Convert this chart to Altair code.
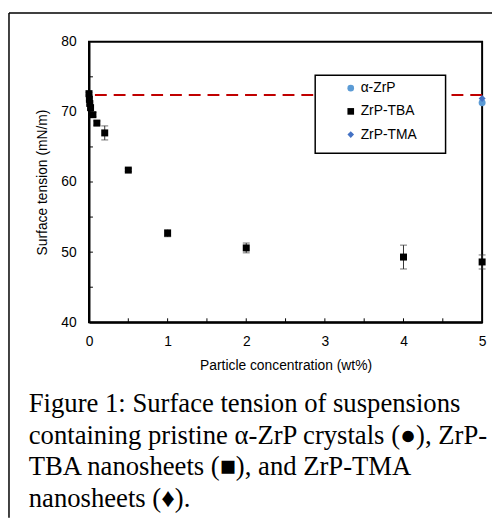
import altair as alt
import pandas as pd

# ZrP-TBA series
tba_conc = [0.0, 0.005, 0.01, 0.02, 0.05, 0.1, 0.2, 0.5, 1.0, 2.0, 4.0, 5.0]
tba_tension = [72.6, 71.8, 71.2, 70.6, 69.6, 68.4, 67.0, 61.7, 52.7, 50.6, 49.3, 48.6]
tba_err = [0.2, 0.2, 0.2, 0.2, 0.3, 0.3, 1.0, 0.2, 0.5, 0.7, 1.7, 1.0]

# pristine alpha-ZrP and ZrP-TMA
azrp_conc = [5.0]
azrp_tension = [71.3]
tma_conc = [5.0]
tma_tension = [71.9]

water_tension = 72.4

series_names = ["α-ZrP", "ZrP-TBA", "ZrP-TMA"]
series_colors = ["#5B9BD5", "#000000", "#4472C4"]
series_shapes = ["circle", "square", "diamond"]

x_ticks_major = [0, 1, 2, 3, 4, 5]
x_ticks_minor = [0.5, 1, 1.5, 2, 2.5, 3, 3.5, 4, 4.5]
y_ticks_major = [40, 50, 60, 70, 80]
y_ticks_minor = [45, 50, 55, 60, 65, 70, 75]

caption_lines = [
    "Figure 1: Surface tension of suspensions",
    "containing pristine α-ZrP crystals (●), ZrP-",
    "TBA nanosheets (■), and ZrP-TMA",
    "nanosheets (♦).",
]

SANS = "Liberation Sans, Arial, sans-serif"
SERIF = "Liberation Serif, Times New Roman, serif"

points = pd.DataFrame(
    {
        "conc": azrp_conc + tba_conc + tma_conc,
        "tension": azrp_tension + tba_tension + tma_tension,
        "series": [series_names[0]] * len(azrp_conc)
        + [series_names[1]] * len(tba_conc)
        + [series_names[2]] * len(tma_conc),
    }
)
errs = pd.DataFrame(
    {
        "conc": tba_conc,
        "lo": [t - e for t, e in zip(tba_tension, tba_err)],
        "hi": [t + e for t, e in zip(tba_tension, tba_err)],
    }
)

W, H = 398, 284
xscale = alt.Scale(domain=[0, 5], nice=False)
yscale = alt.Scale(domain=[40, 80], nice=False)

xax = alt.Axis(
    values=x_ticks_major, format="d", grid=False, ticks=False, tickSize=0,
    domainColor="black", domainWidth=2, labelFontSize=14, labelColor="black",
    labelFont=SANS, labelPadding=13, labelFlush=False, title="Particle concentration (wt%)",
    titleFont=SANS, titleFontSize=14, titleFontWeight="normal", titleColor="black",
    titlePadding=10,
)
yax = alt.Axis(
    values=y_ticks_major, grid=False, ticks=False, tickSize=0,
    domainColor="black", domainWidth=2, labelFontSize=14, labelColor="black",
    labelFont=SANS, labelPadding=13, labelFlush=False, title="Surface tension (mN/m)",
    titleFont=SANS, titleFontSize=14, titleFontWeight="normal", titleColor="black",
    titlePadding=11,
)

base_x = alt.X("conc:Q", scale=xscale, axis=xax)

legend = alt.Legend(
    title=None, orient="none", legendX=234, legendY=31, padding=9,
    symbolOffset=15, labelOffset=3, rowPadding=9.5,
    labelFontSize=14, labelFont=SANS, labelColor="black",
    symbolSize=45, symbolStrokeWidth=0,
)

water = alt.Chart(pd.DataFrame({"y": [water_tension]})).mark_rule(
    color="#C00000", strokeWidth=2, strokeDash=[12, 7]
).encode(y=alt.Y("y:Q", scale=yscale, axis=yax))

# legend frame (white box covering the dashed line)
legend_box = alt.Chart(pd.DataFrame({"a": [0]})).mark_rect(
    fill="white", stroke="black", strokeWidth=1.5
).encode(x=alt.value(229), x2=alt.value(361), y=alt.value(34), y2=alt.value(113))

err_rule = alt.Chart(errs).mark_rule(color="#333333", strokeWidth=1).encode(
    x=base_x, y=alt.Y("lo:Q", scale=yscale, axis=yax), y2="hi:Q"
)
cap_lo = alt.Chart(errs).mark_tick(color="#333333", thickness=1, size=7, orient="horizontal").encode(
    x=base_x, y=alt.Y("lo:Q", scale=yscale, axis=yax)
)
cap_hi = alt.Chart(errs).mark_tick(color="#333333", thickness=1, size=7, orient="horizontal").encode(
    x=base_x, y=alt.Y("hi:Q", scale=yscale, axis=yax)
)

pts = alt.Chart(points).mark_point(filled=True, opacity=1, size=50).encode(
    x=base_x,
    y=alt.Y("tension:Q", scale=yscale, axis=yax),
    fill=alt.Fill(
        "series:N",
        scale=alt.Scale(domain=series_names, range=series_colors),
        legend=legend,
    ),
    shape=alt.Shape(
        "series:N",
        scale=alt.Scale(domain=series_names, range=series_shapes),
        legend=legend,
    ),
)

yt = alt.Chart(pd.DataFrame({"v": y_ticks_minor})).mark_rule(color="black", strokeWidth=1).encode(
    y=alt.Y("v:Q", scale=yscale, axis=yax), x=alt.value(0), x2=alt.value(4)
)
xt = alt.Chart(pd.DataFrame({"v": x_ticks_minor})).mark_rule(color="black", strokeWidth=1).encode(
    x=alt.X("v:Q", scale=xscale, axis=xax), y=alt.value(H), y2=alt.value(H - 4)
)

frame_left = alt.Chart(pd.DataFrame({"a": [0]})).mark_rule(color="black", strokeWidth=1.5).encode(
    x=alt.value(-81), y=alt.value(-29), y2=alt.value(H + 198)
)
frame_top = alt.Chart(pd.DataFrame({"a": [0]})).mark_rule(color="black", strokeWidth=1.5).encode(
    x=alt.value(-81), x2=alt.value(W + 20), y=alt.value(-29)
)

caption = alt.Chart(pd.DataFrame({"a": [0]})).mark_text(
    font=SERIF, fontSize=27, color="black", align="left", baseline="alphabetic",
    lineBreak="\n", lineHeight=32,
).encode(
    x=alt.value(-61), y=alt.value(375), text=alt.value("\n".join(caption_lines))
)

chart = (
    alt.layer(water, legend_box, err_rule, cap_lo, cap_hi, pts, yt, xt,
              frame_left, frame_top, caption)
    .properties(
        width=W,
        height=H,
        autosize=alt.AutoSizeParams(type="none"),
        padding={"left": 82, "top": 31, "right": 10, "bottom": 196},
    )
    .configure_view(stroke="black", strokeWidth=2)
)

chart.save("out.html", embed_options={"renderer": "svg", "actions": False})
